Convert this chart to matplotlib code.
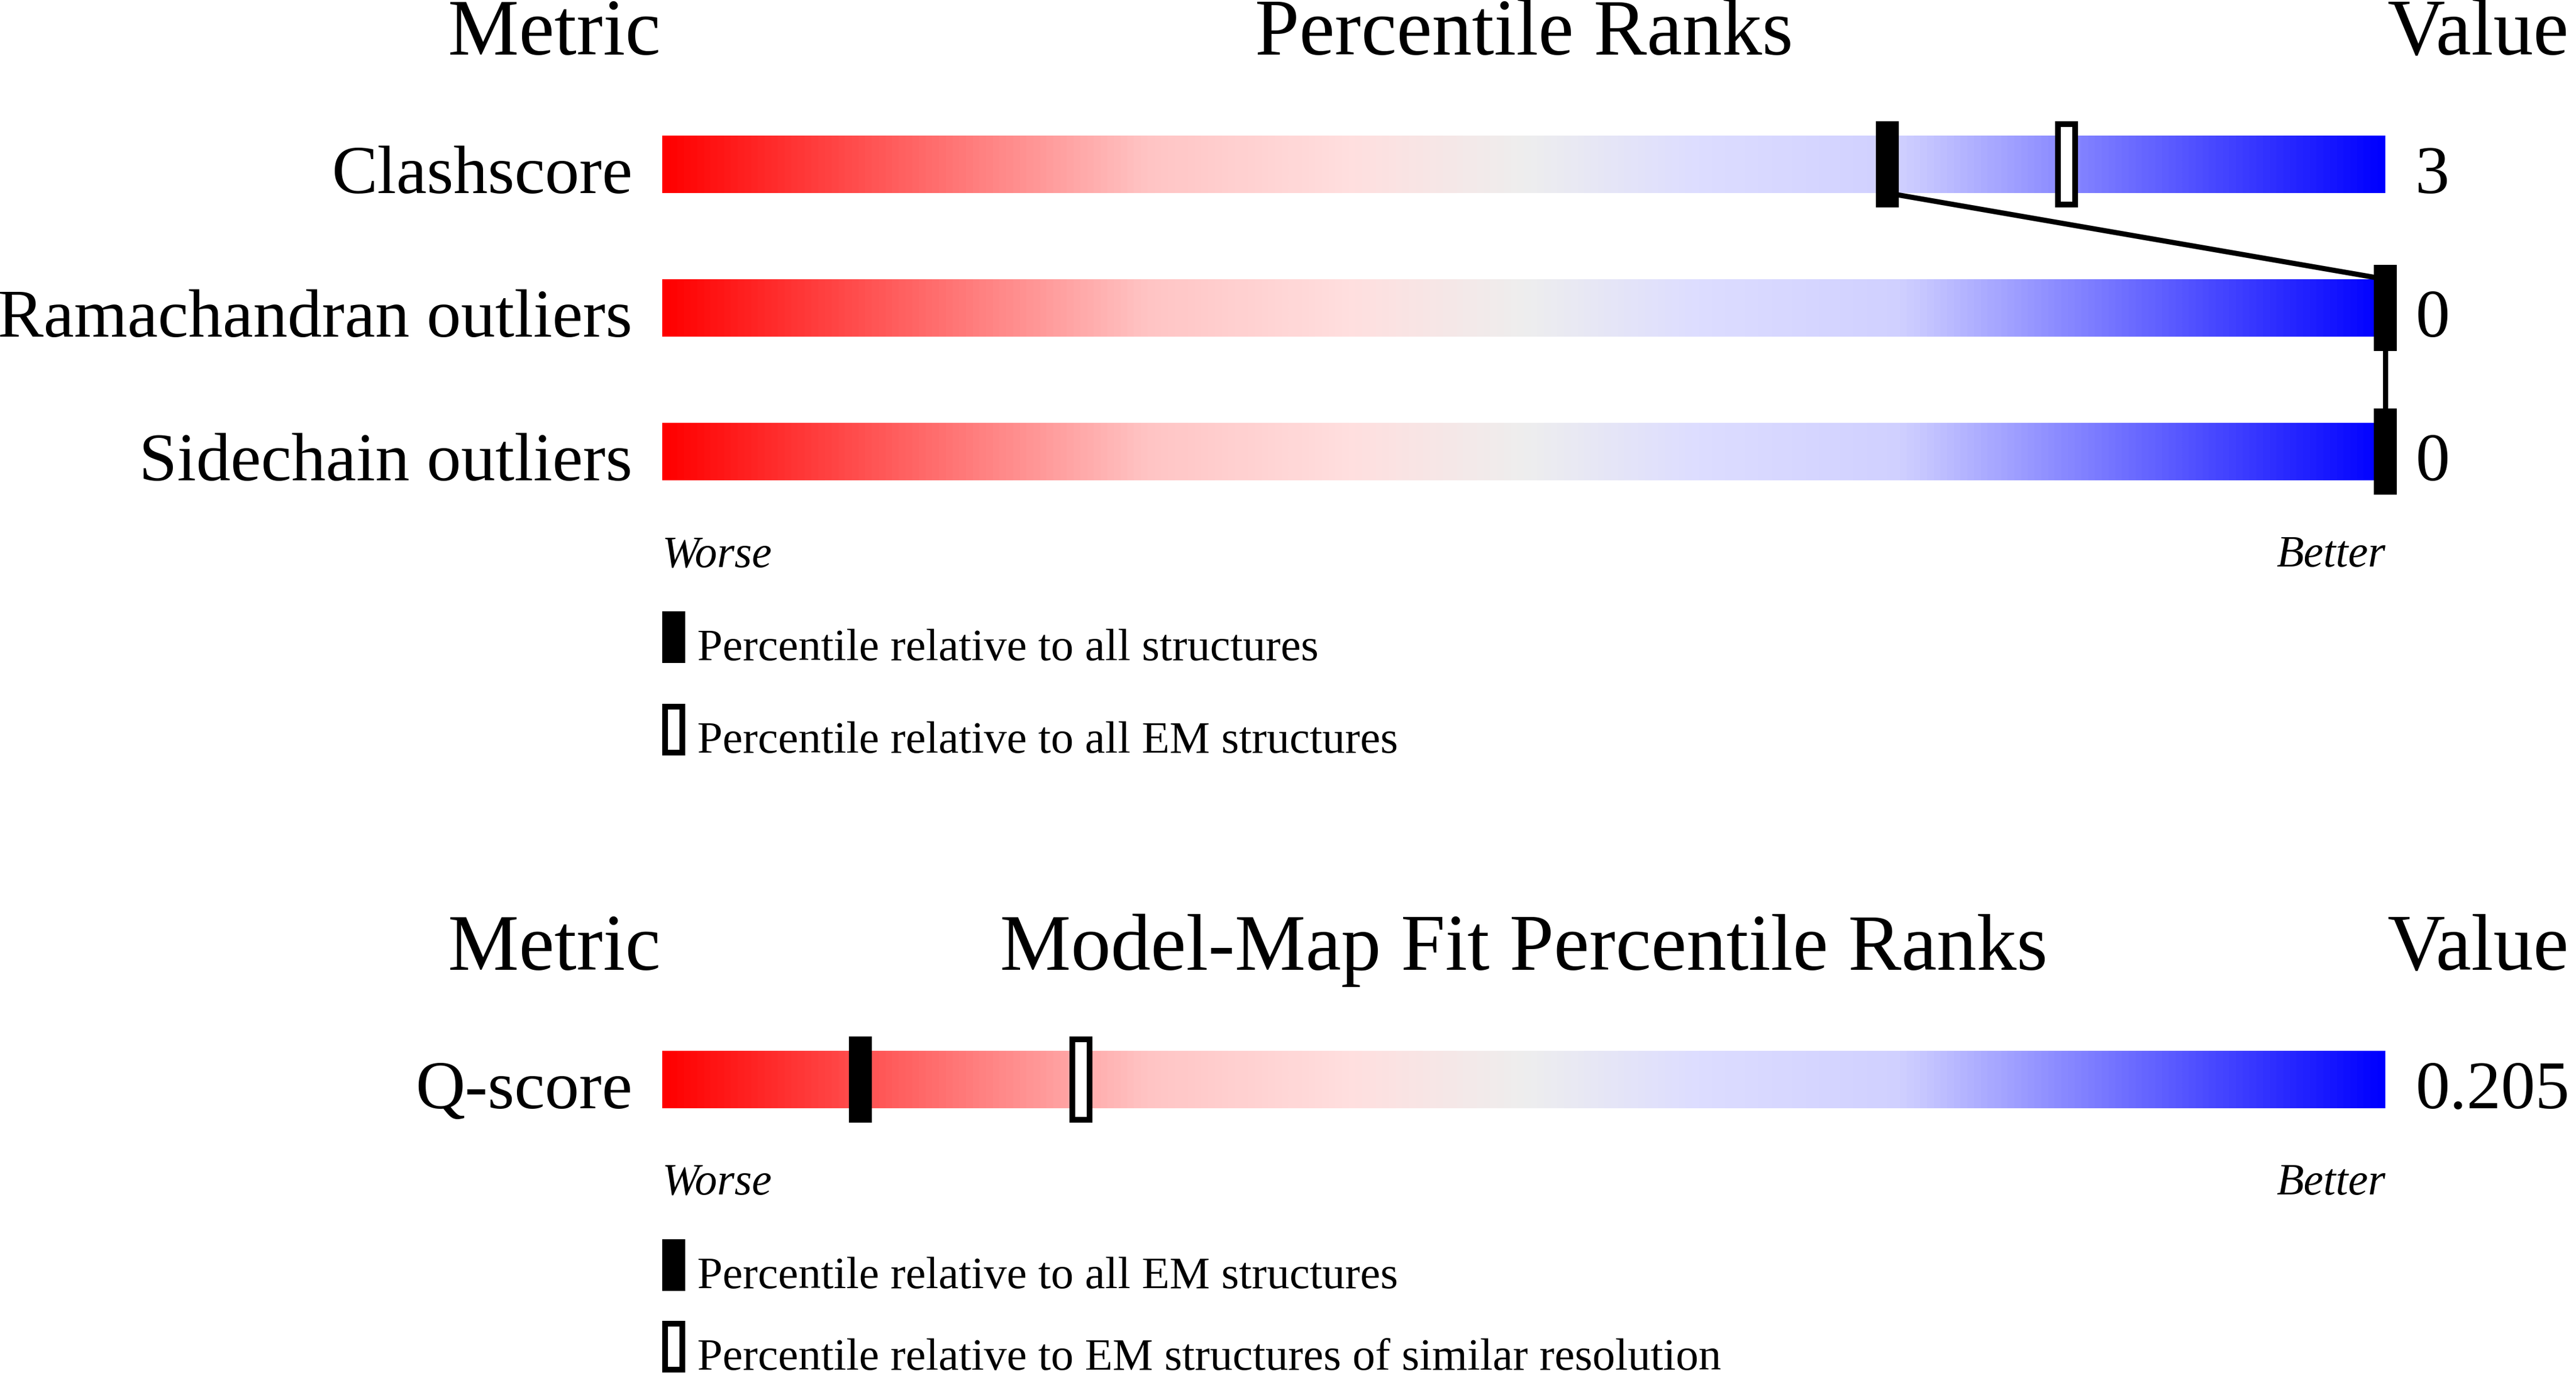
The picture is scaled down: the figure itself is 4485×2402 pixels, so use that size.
import numpy as np
import matplotlib.pyplot as plt
from matplotlib.colors import LinearSegmentedColormap
from matplotlib.patches import Rectangle

plt.rcParams['font.family'] = ['Liberation Serif', 'DejaVu Serif']

# data: top panel (geometry)
metrics = ['Clashscore', 'Ramachandran outliers', 'Sidechain outliers']
metric_values = ['3', '0', '0']
pct_all = [71.1, 100, 100]        # filled marker
pct_all_em = [81.5, 100, 100]     # open marker
legend_top = ['Percentile relative to all structures',
              'Percentile relative to all EM structures']

# data: bottom panel (model-map fit)
fit_metrics = ['Q-score']
fit_values = ['0.205']
fit_pct_em = [11.5]               # filled marker
fit_pct_similar = [24.3]          # open marker
legend_fit = ['Percentile relative to all EM structures',
              'Percentile relative to EM structures of similar resolution']

# gradient of the slider
grad_stops = [0.0, 0.28, 0.40, 0.50, 0.60, 0.72, 1.0]
grad_colors = ['#ff0000', '#ffc4c4', '#ffdfdf', '#eeeeee', '#ddddff', '#d0d0ff', '#0000ff']
cmap = LinearSegmentedColormap.from_list('slider', list(zip(grad_stops, grad_colors)))

W, H = 4485, 2402
BAR_X0, BAR_W = 1153, 3000
fig = plt.figure(figsize=(W / 100, H / 100), dpi=100)
ax = fig.add_axes([BAR_X0 / W, 0, BAR_W / W, 1])

PX = BAR_W / 100.0        # pixels per percentile unit
MARK_W = 40 / PX
EDGE = 10 / PX
LW_PT = 9 * 0.72
grad = np.linspace(0, 1, 600).reshape(1, -1)

FS_HEAD, FS_LABEL, FS_SMALL = 100, 86, 57


def marker(x, y_top, height, filled):
    if filled:
        ax.add_patch(Rectangle((x - MARK_W / 2, y_top), MARK_W, height,
                               fc='black', ec='none', zorder=4, clip_on=False))
    else:
        ax.add_patch(Rectangle((x - MARK_W / 2 + EDGE / 2, y_top + 5), MARK_W - EDGE, height - 10,
                               fc='white', ec='black', lw=LW_PT * 10 / 9, zorder=3, clip_on=False))


def panel(header_y, title, names, values, filled, opened, legend, connect, leg_step):
    ax.annotate('Metric', xy=(0, header_y), xytext=(-3, 0), textcoords='offset pixels',
                ha='right', va='baseline', fontsize=FS_HEAD)
    ax.text(50, header_y, title, ha='center', va='baseline', fontsize=FS_HEAD)
    ax.annotate('Value', xy=(100, header_y), xytext=(3, 0), textcoords='offset pixels',
                ha='left', va='baseline', fontsize=FS_HEAD, annotation_clip=False)

    tops = [header_y + 141 + i * 250 for i in range(len(names))]
    for i, top in enumerate(tops):
        bottom = top + 100
        ax.imshow(grad, cmap=cmap, extent=(0, 100, bottom, top), aspect='auto',
                  interpolation='bilinear', zorder=1)
        ax.annotate(names[i], xy=(0, bottom), xytext=(-52, 0), textcoords='offset pixels',
                    ha='right', va='baseline', fontsize=FS_LABEL)
        ax.annotate(values[i], xy=(100, bottom), xytext=(52, 0), textcoords='offset pixels',
                    ha='left', va='baseline', fontsize=FS_LABEL, annotation_clip=False)
        marker(opened[i], top - 25, 150, False)
        marker(filled[i], top - 25, 150, True)

    if connect:
        for i in range(len(tops) - 1):
            ax.plot([filled[i], filled[i + 1]], [tops[i] + 100, tops[i + 1]],
                    color='black', lw=LW_PT, solid_capstyle='butt', zorder=2, clip_on=False)

    worse_y = tops[-1] + 100 + 150
    ax.text(0, worse_y, 'Worse', style='italic', ha='left', va='baseline', fontsize=56)
    ax.text(100, worse_y, 'Better', style='italic', ha='right', va='baseline', fontsize=56)

    for j, lab in enumerate(legend):
        base = worse_y + 163 + j * leg_step
        marker(MARK_W / 2, base - 85, 90, j == 0)
        ax.annotate(lab, xy=(0, base), xytext=(61, 0), textcoords='offset pixels',
                    ha='left', va='baseline', fontsize=FS_SMALL, annotation_clip=False)


panel(95, 'Percentile Ranks', metrics, metric_values, pct_all, pct_all_em, legend_top, True, 161)
panel(1688, 'Model-Map Fit Percentile Ranks', fit_metrics, fit_values,
      fit_pct_em, fit_pct_similar, legend_fit, False, 142)

ax.set_xlim(0, 100)
ax.set_ylim(H, 0)
ax.axis('off')

fig.savefig('out.png', dpi=100, facecolor='white')
